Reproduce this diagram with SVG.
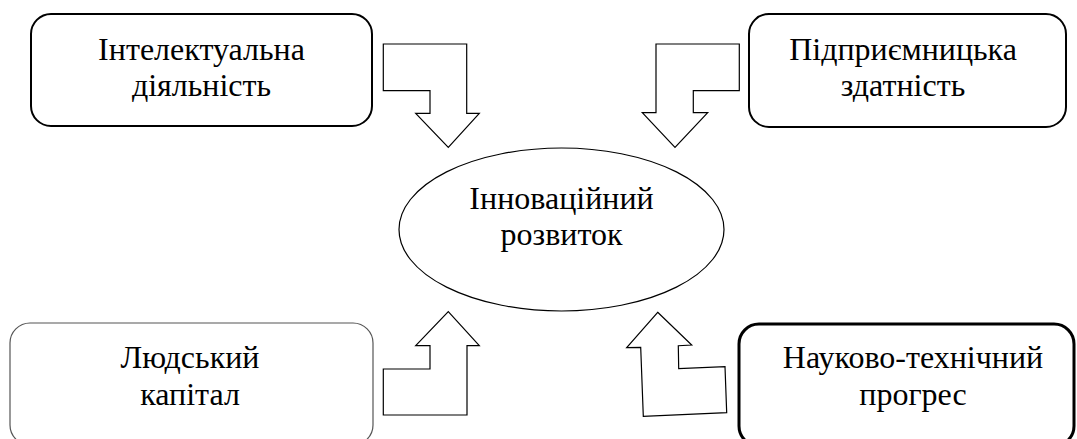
<svg xmlns="http://www.w3.org/2000/svg" width="1077" height="439" viewBox="0 0 1077 439">
<style>
.t{font-family:"Liberation Serif","Times New Roman",serif;font-size:32px;fill:#000;text-anchor:middle}
.box{fill:#fff;stroke:#000}
.arr{fill:#fff;stroke:#000;stroke-width:1.2;stroke-linejoin:miter}
</style>
<rect width="1077" height="439" fill="#fff"/>
<g id="connectors">
<polygon class="arr" points="383.3,44 466.7,44 466.7,113.3 479.3,113.3 448.3,147.3 415.7,113.3 430,113.3 430,90.7 383.3,90.7"/>
<polygon class="arr" points="739.3,44 656,44 656,112.7 642.3,112.7 675,147.3 707.7,112.7 693.3,112.7 693.3,90.7 739.3,90.7"/>
<polygon class="arr" points="448.3,311.7 479.3,345.7 467,345.7 467,415 383.3,415 383.3,369 430,369 430,345.7 415.7,345.7"/>
<polygon class="arr" points="657.7,312.3 691.7,345 678.3,345.7 678.7,368.7 725,366.7 726.7,412.7 643.3,416.3 640.7,347.3 626.7,347.7"/>
</g>
<g id="node-intel">
<rect class="box" x="31" y="14" width="341" height="112" rx="20" style="stroke-width:2"/>
<text class="t" x="201.5" y="60">Інтелектуальна</text>
<text class="t" x="201.5" y="96">діяльність</text>
</g>
<g id="node-pidpr">
<rect class="box" x="749" y="14" width="317" height="113" rx="20" style="stroke-width:2"/>
<text class="t" x="903" y="60">Підприємницька</text>
<text class="t" x="903" y="96">здатність</text>
</g>
<g id="node-lyud">
<rect class="box" x="10" y="323" width="363" height="122" rx="20" style="stroke:#555;stroke-width:1.2"/>
<text class="t" x="190" y="368">Людський</text>
<text class="t" x="190" y="405">капітал</text>
</g>
<g id="node-nauk">
<rect class="box" x="739" y="324" width="335" height="122" rx="20" style="stroke-width:3"/>
<text class="t" x="913" y="368">Науково-технічний</text>
<text class="t" x="913" y="405">прогрес</text>
</g>
<g id="node-center">
<ellipse class="box" cx="561.5" cy="229.5" rx="162.5" ry="81.5" style="stroke-width:1.2"/>
<text class="t" x="561.5" y="209">Інноваційний</text>
<text class="t" x="561.5" y="245">розвиток</text>
</g>
</svg>
